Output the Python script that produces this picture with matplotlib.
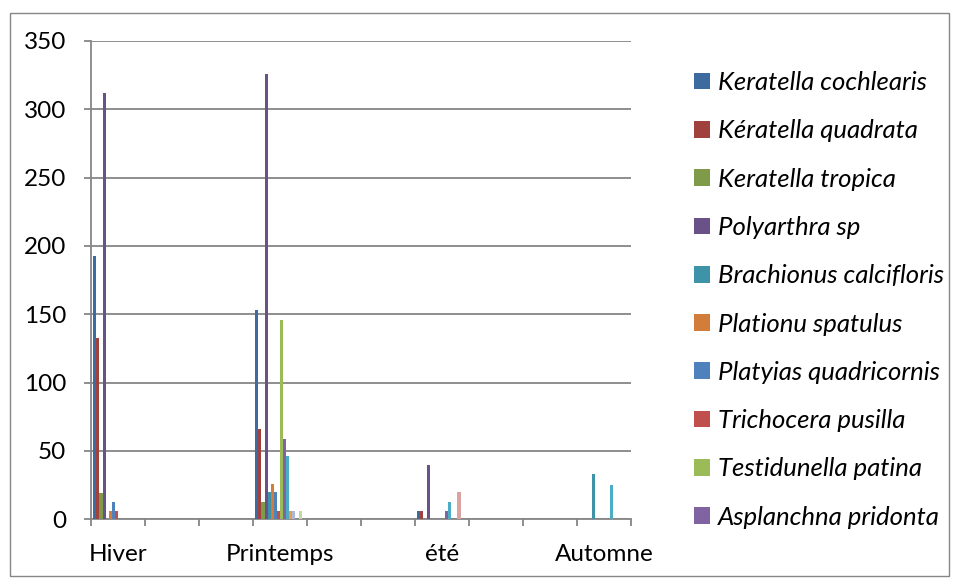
import numpy as np
import matplotlib
matplotlib.use("Agg")
import matplotlib.pyplot as plt
from matplotlib.patches import Rectangle, Patch

plt.rcParams['font.family'] = ['Lato', 'DejaVu Sans']

# ---- data ----
categories = ["Hiver", "", "", "Printemps", "", "", "été", "", "", "Automne"]

series_names = [
    "Keratella cochlearis", "Kératella quadrata", "Keratella tropica",
    "Polyarthra sp", "Brachionus calcifloris", "Plationu spatulus",
    "Platyias quadricornis", "Trichocera pusilla", "Testidunella patina",
    "Asplanchna pridonta", "_s11", "_s12", "_s13", "_s14", "_s15", "_s16",
]

keratella_cochlearis   = [193, 0, 0, 153, 0, 0, 6, 0, 0, 0]
keratella_quadrata     = [133, 0, 0, 66, 0, 0, 6, 0, 0, 0]
keratella_tropica      = [19, 0, 0, 13, 0, 0, 0, 0, 0, 0]
polyarthra_sp          = [312, 0, 0, 326, 0, 0, 40, 0, 0, 0]
brachionus_calcifloris = [0, 0, 0, 20, 0, 0, 0, 0, 0, 33]
plationu_spatulus      = [6, 0, 0, 26, 0, 0, 0, 0, 0, 0]
platyias_quadricornis  = [13, 0, 0, 20, 0, 0, 0, 0, 0, 0]
trichocera_pusilla     = [6, 0, 0, 6, 0, 0, 0, 0, 0, 0]
testidunella_patina    = [0, 0, 0, 146, 0, 0, 0, 0, 0, 0]
asplanchna_pridonta    = [0, 0, 0, 59, 0, 0, 6, 0, 0, 0]
series_11              = [0, 0, 0, 46, 0, 0, 13, 0, 0, 25]
series_12              = [0, 0, 0, 6, 0, 0, 0, 0, 0, 0]
series_13              = [0, 0, 0, 6, 0, 0, 0, 0, 0, 0]
series_14              = [0, 0, 0, 0, 0, 0, 20, 0, 0, 0]
series_15              = [0, 0, 0, 6, 0, 0, 0, 0, 0, 0]
series_16              = [0, 0, 0, 0, 0, 0, 0, 0, 0, 0]

all_series = [keratella_cochlearis, keratella_quadrata, keratella_tropica,
              polyarthra_sp, brachionus_calcifloris, plationu_spatulus,
              platyias_quadricornis, trichocera_pusilla, testidunella_patina,
              asplanchna_pridonta, series_11, series_12, series_13,
              series_14, series_15, series_16]

colors = ["#3E6B9F", "#A1413E", "#7F9A48", "#6A5188", "#3E93A9", "#D27D3A",
          "#4F81BD", "#C0504D", "#9BBB59", "#8064A2", "#4BACC6", "#F79646",
          "#A7B9DC", "#D9A3A2", "#C3D7A4", "#B4A7C9"]

yticks = [0, 50, 100, 150, 200, 250, 300, 350]

# ---- figure ----
W, H = 958, 580
fig = plt.figure(figsize=(W / 100, H / 100), dpi=100)
fig.patch.set_facecolor("white")
fig.patches.append(Rectangle((9.5 / W, 4.5 / H), 939 / W, 563 / H,
                             transform=fig.transFigure, fill=False,
                             edgecolor="#868686", linewidth=1.0))

ax = fig.add_axes([91 / W, (H - 519.3) / H, 540 / W, 478.3 / H])

n = len(all_series)
gap = 1.5
w = 1.0 / (n + gap)
x = np.arange(len(categories)) + 0.5
for k, (vals, name, col) in enumerate(zip(all_series, series_names, colors)):
    ax.bar(x + (k - (n - 1) / 2) * w, vals, width=w, color=col,
           linewidth=0, label=name, zorder=3)

grey = "#868686"
ax.set_xlim(0, len(categories))
ax.set_ylim(0, 350)
ax.set_yticks(yticks)
ax.yaxis.grid(True, color=grey, linewidth=1.3, zorder=0)
ax.set_axisbelow(True)
for s in ["top", "right"]:
    ax.spines[s].set_visible(False)
for s in ["left", "bottom"]:
    ax.spines[s].set_color(grey)
    ax.spines[s].set_linewidth(1.3)

ax.set_xticks(np.arange(len(categories) + 1))
ax.set_xticklabels([])
ax.set_xticks(x, minor=True)
ax.set_xticklabels(categories, minor=True)
ax.tick_params(axis="x", which="major", length=5, width=1.3, color=grey)
ax.tick_params(axis="x", which="minor", length=0, pad=18, labelsize=17.5)
ax.tick_params(axis="y", length=5, width=1.3, color=grey, pad=13,
               labelsize=17.5)

handles = [Patch(facecolor=c, edgecolor="none") for c in colors[:10]]
leg = fig.legend(handles, series_names[:10], loc="upper left",
                 bbox_to_anchor=(694 / W, 1 - 71 / H), frameon=False,
                 prop={"style": "italic", "size": 18.5},
                 handlelength=0.62, handleheight=0.62, handletextpad=0.3,
                 labelspacing=0.985, borderaxespad=0, borderpad=0)

fig.savefig("out.png", dpi=100)
